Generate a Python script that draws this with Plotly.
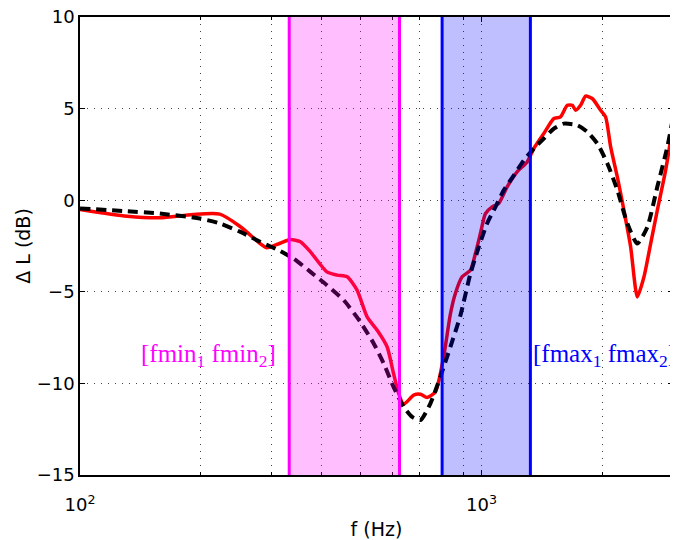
import numpy as np
import plotly.graph_objects as go

# Red solid curve (measured)
f_red = [100, 131, 158, 191, 223, 251, 281, 292, 315, 334, 354, 375, 412, 437, 463, 490,
         519, 550, 582, 604, 622, 640, 678, 705, 732, 768, 805, 837, 861, 895, 939, 966,
         994, 1023, 1063, 1104, 1159, 1227, 1300, 1350, 1430, 1515, 1574, 1636, 1684, 1716,
         1766, 1817, 1888, 1981, 2038, 2098, 2180, 2264, 2353, 2445, 2540, 2639, 2742, 2876, 3000]
dl_red = [-0.5, -0.87, -0.96, -0.78, -0.76, -1.45, -2.37, -2.6, -2.35, -2.15, -2.27, -2.82,
          -3.91, -4.09, -4.18, -4.91, -6.37, -7.1, -8.0, -9.46, -10.55, -11.14, -10.64, -10.59,
          -10.77, -10.46, -8.55, -6.2, -5.09, -4.18, -3.82, -2.91, -1.82, -0.73, -0.36, -0.18,
          0.73, 1.55, 2.09, 2.82, 3.64, 4.46, 4.55, 5.18, 5.18, 4.91, 5.18, 5.68, 5.55, 4.91,
          4.55, 2.91, 1.27, -0.55, -2.55, -5.28, -4.18, -2.37, -0.55, 1.64, 4.1]

# Black dashed curve (model)
f_blk = [100, 131, 158, 199, 223, 251, 281, 315, 340, 375, 412, 454, 499, 539, 571, 604, 640,
         672, 705, 746, 790, 837, 886, 939, 985, 1033, 1084, 1137, 1204, 1275, 1350, 1430, 1515,
         1604, 1733, 1835, 1944, 2059, 2180, 2309, 2445, 2590, 2742, 2904, 3000]
dl_blk = [-0.45, -0.6, -0.73, -1.0, -1.27, -1.73, -2.27, -2.77, -3.18, -3.91, -4.64, -5.46,
          -6.64, -7.82, -8.92, -10.19, -11.28, -11.83, -12.0, -11.1, -9.64, -8.0, -6.3, -4.0,
          -2.55, -1.27, -0.36, 0.55, 1.36, 2.18, 2.82, 3.37, 3.91, 4.18, 4.09, 3.73, 3.09, 2.0,
          0.55, -1.27, -2.37, -1.46, 0.73, 2.91, 4.5]

# Frequency bands
fmin_band = [332, 625]
fmax_band = [798, 1324]

x_major = [100, 1000]
x_major_text = ["10<sup>2</sup>", "10<sup>3</sup>"]
x_minor = [200, 300, 400, 500, 600, 700, 800, 900, 2000, 3000]
y_ticks = [10, 5, 0, -5, -10, -15]
y_tick_text = ["10", "5", "0", "\u22125", "\u221210", "\u221215"]

fig = go.Figure()
fig.add_trace(go.Scatter(x=f_red, y=dl_red, mode="lines",
                         line=dict(color="#ff0000", width=3.5, shape="spline", smoothing=0.6),
                         showlegend=False))
fig.add_trace(go.Scatter(x=f_blk, y=dl_blk, mode="lines",
                         line=dict(color="#000000", width=4, dash="10px,6px",
                                   shape="spline", smoothing=0.6),
                         showlegend=False))

for band, col, fill in [(fmin_band, "#ff00ff", "rgba(255,0,255,0.25)"),
                        (fmax_band, "#0000ff", "rgba(0,0,255,0.25)")]:
    fig.add_shape(type="rect", xref="x", yref="paper", x0=band[0], x1=band[1], y0=0, y1=1,
                  fillcolor=fill, line=dict(width=0), layer="above")
    for b in band:
        fig.add_shape(type="line", xref="x", yref="paper", x0=b, x1=b, y0=0, y1=1,
                      line=dict(color=col, width=3), layer="above")

fig.add_annotation(x=np.log10(140), y=-8.5, xref="x", yref="y", xanchor="left", yanchor="middle",
                   text="[fmin<sub>1</sub> fmin<sub>2</sub>]", showarrow=False,
                   font=dict(family="Liberation Serif", size=25, color="#ff00ff"))
fig.add_annotation(x=np.log10(1330), y=-8.5, xref="x", yref="y", xanchor="left", yanchor="middle",
                   text="[fmax<sub>1</sub> fmax<sub>2</sub>]", showarrow=False,
                   font=dict(family="Liberation Serif", size=25, color="#0000ff"))

axis_common = dict(showline=True, linecolor="black", linewidth=1.5, mirror="allticks",
                   ticks="inside", ticklen=5, tickcolor="black", tickwidth=1,
                   showgrid=True, gridcolor="#444444", gridwidth=1, griddash="1px,6px",
                   zeroline=False, automargin=False, ticklabeloverflow="allow",
                   tickfont=dict(family="DejaVu Sans", size=18, color="black"))

fig.update_xaxes(type="log", range=[2, np.log10(3000)], tickmode="array",
                 tickvals=x_major, ticktext=x_major_text, ticklabelstandoff=13,
                 minor=dict(tickmode="array", tickvals=x_minor, ticks="inside", ticklen=3,
                            tickcolor="black", showgrid=True, gridcolor="#444444",
                            griddash="1px,6px", gridwidth=1),
                 title=dict(text="f (Hz)", font=dict(family="DejaVu Sans", size=19, color="black"),
                            standoff=12),
                 **axis_common)
fig.update_yaxes(range=[-15, 10], tickmode="array", tickvals=y_ticks, ticktext=y_tick_text,
                 title=dict(text="\u0394 L (dB)", font=dict(family="DejaVu Sans", size=19, color="black"),
                            standoff=1),
                 **axis_common)

# the page adds an 8px body margin, so the figure is 8px smaller and margins compensate
fig.update_layout(width=670, height=532, margin=dict(l=72, r=5, t=9, b=65),
                  plot_bgcolor="white", paper_bgcolor="white")

fig.write_html("out.html")
